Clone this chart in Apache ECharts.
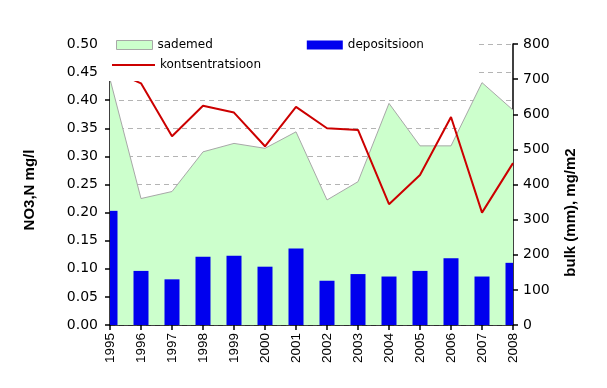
<!DOCTYPE html>
<html>
<head>
<meta charset="utf-8">
<script src="https://cdn.jsdelivr.net/npm/echarts@6/dist/echarts.min.js"></script>
<style>
html,body{margin:0;padding:0;background:#fff;}
#c{width:607px;height:388px;}
</style>
</head>
<body>
<div id="c"></div>
<script>
var years = ['1995','1996','1997','1998','1999','2000','2001','2002','2003','2004','2005','2006','2007','2008'];
var sademed = [700,360,380,493,517,503,550,356,408,631,510,510,690,612];
var depositsioon = [325,154,130,194,197,166,218,126,145,138,154,190,138,177];
var kontsentratsioon = [0.455,0.43,0.336,0.39,0.378,0.318,0.388,0.35,0.347,0.215,0.267,0.37,0.2,0.288];

var chart = echarts.init(document.getElementById('c'), null, {renderer:'canvas'});
var tickFont = {fontFamily:'DejaVu Sans', fontSize:14, color:'#000'};
var legendText = {fontFamily:'DejaVu Sans', fontSize:12, color:'#000'};
var barData = depositsioon.map(function(v,i){return [i, v];});
function renderBar(params, api){
  var top = api.coord([api.value(0), api.value(1)]);
  var base = api.coord([api.value(0), 0]);
  var w = 15;
  var cs = params.coordSys;
  var rect = echarts.graphic.clipRectByRect(
    {x: top[0]-w/2, y: top[1], width: w, height: base[1]-top[1]},
    {x: cs.x, y: cs.y, width: cs.width, height: cs.height});
  return rect && {type:'rect', shape: rect, style: api.style({fill:'#0000ee'})};
}
chart.setOption({
  animation:false,
  backgroundColor:'#fff',
  grid:{left:110, right:94, top:44, bottom:63},
  legend:[
    {data:[{name:'sademed', icon:'rect', itemStyle:{color:'#ccffcc', borderColor:'#a8a8a8', borderWidth:1}},
           {name:'depositsioon', icon:'rect', itemStyle:{color:'#0000ee'}}],
     left:100, top:33, padding:[6,55,30,16], backgroundColor:'#fff',
     itemWidth:36, itemHeight:9, itemGap:94, textStyle:legendText, selectedMode:false},
    {z:5, data:[{name:'kontsentratsioon', icon:'rect', itemStyle:{color:'#cc0000'}}], left:112, top:59, padding:0, itemWidth:43, itemHeight:2, textStyle:legendText, selectedMode:false}
  ],
  xAxis:{
    type:'category', data:years, boundaryGap:false,
    axisLine:{lineStyle:{color:'#000', width:1.5}},
    axisTick:{length:5, lineStyle:{color:'#000', width:1.5}},
    axisLabel:{rotate:90, interval:0, margin:8, fontFamily:'Liberation Sans', fontSize:13.5, color:'#000'},
    splitLine:{show:false}
  },
  yAxis:[
    {type:'value', min:0, max:0.5, interval:0.05, position:'left',
     name:'NO3,N mg/l', nameLocation:'middle', nameGap:73, nameRotate:90,
     nameTextStyle:{fontFamily:'Liberation Sans', fontWeight:'bold', fontSize:15, color:'#000', padding:[0,11,0,0]},
     axisLine:{show:true, lineStyle:{color:'#000', width:1.5}},
     axisTick:{show:true, length:5, lineStyle:{color:'#000', width:1.5}},
     axisLabel:Object.assign({margin:12, formatter:function(v){return v.toFixed(2);}}, tickFont),
     splitLine:{show:true, lineStyle:{color:'#b4b4b4', width:1, type:[5,4]}}
    },
    {type:'value', min:0, max:800, interval:100, position:'right',
     name:'bulk (mm), mg/m2', nameLocation:'middle', nameGap:50, nameRotate:90,
     nameTextStyle:{fontFamily:'Liberation Sans', fontWeight:'bold', fontSize:15, color:'#000', padding:[0,56,0,0]},
     axisLine:{show:true, lineStyle:{color:'#000', width:1.5}},
     axisTick:{show:true, length:5, lineStyle:{color:'#000', width:1.5}},
     axisLabel:Object.assign({margin:10}, tickFont),
     splitLine:{show:false}
    }
  ],
  series:[
    {name:'sademed', type:'line', z:1, yAxisIndex:1, data:sademed, symbol:'none',
     lineStyle:{color:'#a8a8a8', width:1}, itemStyle:{color:'#ccffcc'},
     areaStyle:{color:'#ccffcc', opacity:1}},
    {name:'depositsioon', type:'custom', z:1, yAxisIndex:1, data:barData, encode:{x:0, y:1},
     renderItem:renderBar, itemStyle:{color:'#0000ee'}},
    {name:'kontsentratsioon', type:'line', z:1, yAxisIndex:0, data:kontsentratsioon, symbol:'none',
     lineStyle:{color:'#cc0000', width:2}, itemStyle:{color:'#cc0000'}}
  ]
});
</script>
</body>
</html>
